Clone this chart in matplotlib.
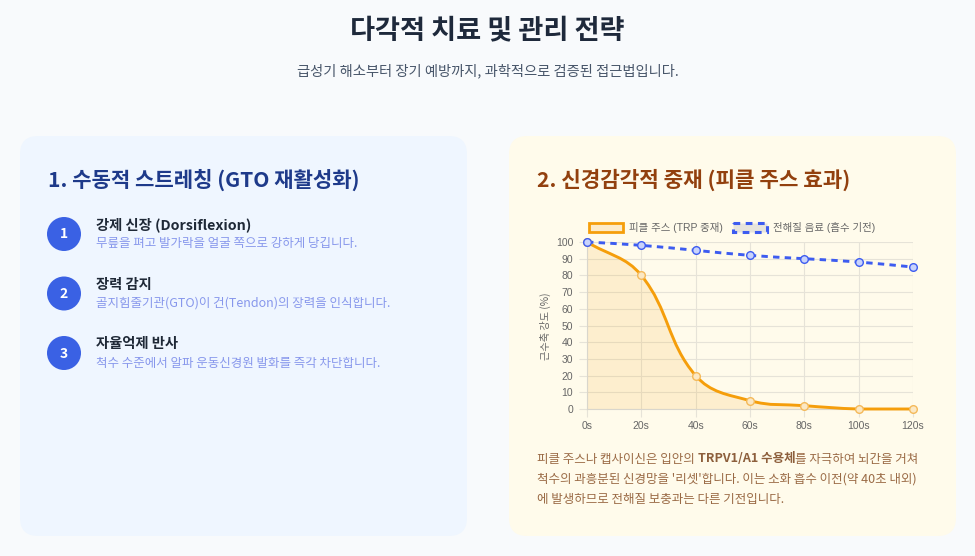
import numpy as np
import matplotlib
matplotlib.use('Agg')
import matplotlib.pyplot as plt
from matplotlib.patches import FancyBboxPatch, Rectangle, PathPatch, Circle
from matplotlib.path import Path

plt.rcParams['font.family'] = ['Noto Sans CJK KR', 'DejaVu Sans']

### data
times = [0, 20, 40, 60, 80, 100, 120]
pickle = [100, 80, 20, 5, 2, 0, 0]
electro = [100, 98, 95, 92, 90, 88, 85]
y_ticks = list(range(0, 101, 10))

title = '다각적 치료 및 관리 전략'
subtitle = '급성기 해소부터 장기 예방까지, 과학적으로 검증된 접근법입니다.'
left_title = '1. 수동적 스트레칭 (GTO 재활성화)'
right_title = '2. 신경감각적 중재 (피클 주스 효과)'
steps = ['강제 신장 (Dorsiflexion)', '장력 감지', '자율억제 반사']
step_desc = ['무릎을 펴고 발가락을 얼굴 쪽으로 강하게 당깁니다.',
             '골지힘줄기관(GTO)이 건(Tendon)의 장력을 인식합니다.',
             '척수 수준에서 알파 운동신경원 발화를 즉각 차단합니다.']
legend_labels = ['피클 주스 (TRP 중재)', '전해질 음료 (흡수 기전)']
y_label = '근수축 강도 (%)'
note_lines = [['피클 주스나 캡사이신은 입안의 ', 'TRPV1/A1 수용체', '를 자극하여 뇌간을 거쳐'],
              ["척수의 과흥분된 신경망을 '리셋'합니다. 이는 소화 흡수 이전(약 40초 내외)"],
              ['에 발생하므로 전해질 보충과는 다른 기전입니다.']]

W, H = 975, 556
ORANGE = '#f59e0b'
BLUE = '#3d5cf0'
TICK_FONT = ['Liberation Sans', 'Noto Sans CJK KR']


def spline_path(xs, ys, sx, sy, ymin, ymax, t=0.4):
    # chart.js style bezier through the points
    n = len(xs)
    cps = []
    for i in range(n):
        p, q = max(i - 1, 0), min(i + 1, n - 1)
        d01 = np.hypot((xs[i] - xs[p]) * sx, (ys[i] - ys[p]) * sy)
        d12 = np.hypot((xs[q] - xs[i]) * sx, (ys[q] - ys[i]) * sy)
        tot = d01 + d12
        fa = t * (d01 / tot if tot else 0)
        fb = t * (d12 / tot if tot else 0)
        dx, dy = xs[q] - xs[p], ys[q] - ys[p]
        c0 = (xs[i] - fa * dx, min(max(ys[i] - fa * dy, ymin), ymax))
        c1 = (xs[i] + fb * dx, min(max(ys[i] + fb * dy, ymin), ymax))
        cps.append((c0, c1))
    verts = [(xs[0], ys[0])]
    codes = [Path.MOVETO]
    for i in range(n - 1):
        verts += [cps[i][1], cps[i + 1][0], (xs[i + 1], ys[i + 1])]
        codes += [Path.CURVE4] * 3
    return verts, codes


def main():
    fig = plt.figure(figsize=(W / 100, H / 100), dpi=100)
    fig.patch.set_facecolor('#f8fafc')

    bg = fig.add_axes([0, 0, 1, 1], zorder=0)
    bg.set_xlim(0, W)
    bg.set_ylim(H, 0)
    bg.axis('off')

    # header
    bg.text(W / 2, 30, title, ha='center', va='center', fontsize=19.6,
            fontweight='bold', color='#1e293b')
    bg.text(W / 2, 71, subtitle, ha='center', va='center', fontsize=10.3,
            color='#475569')

    # cards
    for x0, fc in [(20, '#eff6ff'), (509, '#fffbeb')]:
        bg.add_patch(FancyBboxPatch((x0, 136), 447, 400,
                                    boxstyle='round,pad=0,rounding_size=18',
                                    fc=fc, ec='none'))

    bg.text(48, 180, left_title, ha='left', va='center', fontsize=15.2,
            fontweight='bold', color='#1e3a8a')
    bg.text(537, 180, right_title, ha='left', va='center', fontsize=15.3,
            fontweight='bold', color='#92400e')

    # steps
    for i, (s, d) in enumerate(zip(steps, step_desc)):
        cy = 234 + i * 59.5
        bg.add_patch(Circle((64, cy), 17, fc='#3a61e4', ec='none'))
        bg.text(64, cy + 0.5, str(i + 1), ha='center', va='center', fontsize=10,
                fontweight='bold', color='white')
        bg.text(96, cy - 9, s, ha='left', va='center', fontsize=10.3,
                fontweight='bold', color='#1f2937')
        bg.text(96, cy + 10, d, ha='left', va='center', fontsize=9,
                color='#8797ec')

    # chart
    x0, x1, y0, y1 = 587, 913, 242, 409
    ax = fig.add_axes([x0 / W, 1 - y1 / H, (x1 - x0) / W, (y1 - y0) / H], zorder=2)
    ax.set_facecolor('none')
    ax.set_xlim(times[0], times[-1])
    ax.set_ylim(0, 100)
    sx = (x1 - x0) / (times[-1] - times[0])
    sy = (y1 - y0) / 100.0

    ax.set_xticks(times)
    ax.set_xticklabels([f'{t}s' for t in times])
    ax.set_yticks(y_ticks)
    ax.grid(True, color='#e6e3d8', lw=0.8)
    ax.set_axisbelow(True)
    for sp in ['top', 'right']:
        ax.spines[sp].set_visible(False)
    for sp in ['left', 'bottom']:
        ax.spines[sp].set_color('#d9d6cc')
        ax.spines[sp].set_linewidth(0.8)
    ax.tick_params(length=5.5, width=0.8, color='#e6e3d8', labelcolor='#666666',
                   labelsize=7.5, pad=3)
    ax.tick_params(axis='y', pad=4.5)
    for lab in ax.get_xticklabels() + ax.get_yticklabels():
        lab.set_family(TICK_FONT)

    # pickle juice: filled smooth curve
    verts, codes = spline_path(times, pickle, sx, sy, 0, 100)
    fill_verts = verts + [(times[-1], 0), (times[0], 0), verts[0]]
    fill_codes = codes + [Path.LINETO, Path.LINETO, Path.CLOSEPOLY]
    ax.add_patch(PathPatch(Path(fill_verts, fill_codes), fc=ORANGE, alpha=0.13,
                           ec='none', zorder=2))
    ax.add_patch(PathPatch(Path(verts, codes), fc='none', ec=ORANGE, lw=2.1,
                           zorder=3, clip_on=False, capstyle='round'))
    ax.plot(times, pickle, ls='none', marker='o', ms=5.5, mfc='#fbe8c4',
            mec='#f4b95a', mew=1, zorder=4, clip_on=False)

    # electrolyte drink: dashed
    verts, codes = spline_path(times, electro, sx, sy, 0, 100)
    ax.add_patch(PathPatch(Path(verts, codes), fc='none', ec=BLUE, lw=2.1,
                           ls=(0, (2.2, 1.8)), zorder=3, clip_on=False))
    ax.plot(times, electro, ls='none', marker='o', ms=5.5, mfc='#c9d3fb',
            mec=BLUE, mew=1, zorder=4, clip_on=False)

    # y label
    bg.text(545, 326, y_label, ha='center', va='center', rotation=90,
            fontsize=7.3, color='#666666')

    # legend
    bg.add_patch(Rectangle((589, 223), 34, 9, fc='#fcebc9', ec=ORANGE, lw=2))
    bg.text(629, 227.5, legend_labels[0], ha='left', va='center', fontsize=7.5,
            color='#666666', family=TICK_FONT)
    bg.add_patch(Rectangle((733, 223), 34, 9, fc='#e6e4dc', ec=BLUE, lw=2.2,
                           ls=(0, (2.2, 1.8))))
    bg.text(773, 227.5, legend_labels[1], ha='left', va='center', fontsize=7.5,
            color='#666666', family=TICK_FONT)

    # note text with bold run
    renderer = fig.canvas.get_renderer()
    for j, parts in enumerate(note_lines):
        y = 459 + j * 20.3
        x = 537
        for k, part in enumerate(parts):
            bold = (len(parts) == 3 and k == 1)
            t = bg.text(x, y, part, ha='left', va='center', fontsize=9,
                        fontweight='bold' if bold else 'normal',
                        color='#8d5f3c' if bold else '#9a6a45')
            x = t.get_window_extent(renderer).x1

    fig.savefig('out.png', dpi=100, facecolor=fig.get_facecolor())


if __name__ == '__main__':
    main()
